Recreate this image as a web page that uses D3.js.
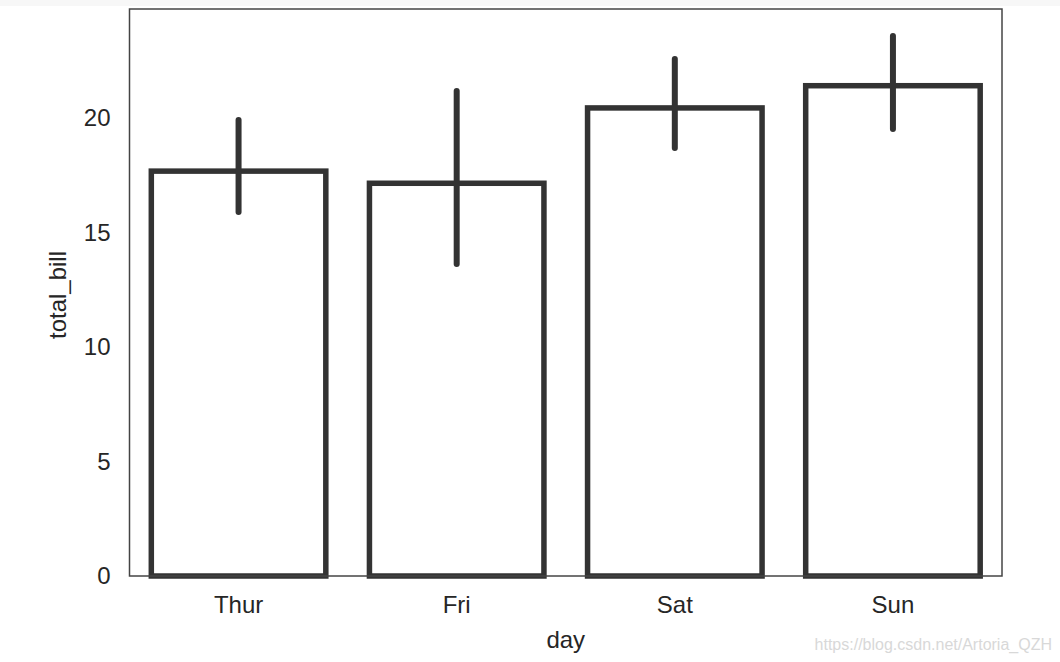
<!DOCTYPE html>
<html>
<head>
<meta charset="utf-8">
<script src="https://cdn.jsdelivr.net/npm/d3@7"></script>
<style>
  body { margin: 0; background: #fff; }
  text { font-family: "Liberation Sans", Arial, sans-serif; fill: #262626; }
</style>
</head>
<body>
<svg width="1060" height="662"></svg>
<script>
// data
const days = ["Thur", "Fri", "Sat", "Sun"];
const meanBill = [17.68, 17.15, 20.44, 21.41];
const ciLow = [15.9, 13.62, 18.69, 19.52];
const ciHigh = [19.91, 21.18, 22.58, 23.58];
const yTicks = [0, 5, 10, 15, 20];

const svg = d3.select("svg");
const margin = { left: 129.5, top: 9, right: 1060 - 1002, bottom: 662 - 576 };
const w = 1060 - margin.left - margin.right;
const h = 662 - margin.top - margin.bottom;

const x = d3.scaleBand().domain(days).range([0, w]).paddingInner(0.2).paddingOuter(0.1);
const y = d3.scaleLinear().domain([0, 24.76]).range([h, 0]);

// faint band at the top of the screenshot
svg.append("rect").attr("x", 0).attr("y", 0).attr("width", 1060).attr("height", 6).attr("fill", "#f7f7f7");

const g = svg.append("g").attr("transform", `translate(${margin.left},${margin.top})`);

// axes, no tick marks
const yAxis = g.append("g").call(d3.axisLeft(y).tickValues(yTicks).tickSize(0).tickPadding(19));
const xAxis = g.append("g").attr("transform", `translate(0,${h})`).call(d3.axisBottom(x).tickSize(0).tickPadding(20));
[yAxis, xAxis].forEach((a) => {
  a.select(".domain").remove();
  a.selectAll("text").style("font-size", "24px").attr("fill", "#262626");
});

const bars = days.map((d, i) => ({ day: d, mean: meanBill[i], lo: ciLow[i], hi: ciHigh[i] }));

g.selectAll("rect.bar")
  .data(bars)
  .enter()
  .append("rect")
  .attr("class", "bar")
  .attr("x", (d) => x(d.day))
  .attr("width", x.bandwidth())
  .attr("y", (d) => y(d.mean))
  .attr("height", (d) => y(0) - y(d.mean))
  .attr("fill", "#fff")
  .attr("stroke", "#333")
  .attr("stroke-width", 5.5);

// error bars
g.selectAll("line.ci")
  .data(bars)
  .enter()
  .append("line")
  .attr("class", "ci")
  .attr("x1", (d) => x(d.day) + x.bandwidth() / 2)
  .attr("x2", (d) => x(d.day) + x.bandwidth() / 2)
  .attr("y1", (d) => y(d.lo))
  .attr("y2", (d) => y(d.hi))
  .attr("stroke", "#333")
  .attr("stroke-width", 6)
  .attr("stroke-linecap", "round");

// frame
g.append("rect")
  .attr("width", w)
  .attr("height", h)
  .attr("fill", "none")
  .attr("stroke", "#444")
  .attr("stroke-width", 1.5);

// axis labels
svg.append("text")
  .attr("x", margin.left + w / 2)
  .attr("y", 648)
  .attr("text-anchor", "middle")
  .style("font-size", "24px")
  .text("day");

svg.append("text")
  .attr("transform", `translate(66,295) rotate(-90)`)
  .attr("text-anchor", "middle")
  .style("font-size", "24px")
  .text("total_bill");

// watermark
svg.append("text")
  .attr("x", 1052)
  .attr("y", 650)
  .attr("text-anchor", "end")
  .style("font-size", "16px")
  .style("fill", "#d8d8d8")
  .text("https://blog.csdn.net/Artoria_QZH");
</script>
</body>
</html>
